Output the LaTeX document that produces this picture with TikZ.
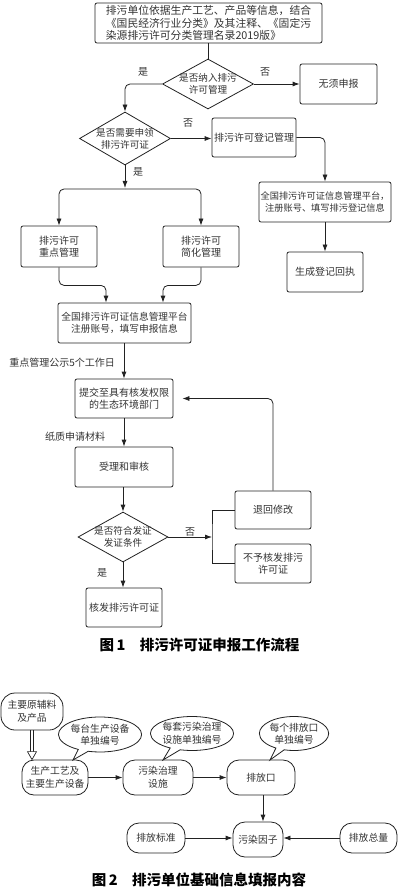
\documentclass[tikz,border=0pt]{standalone}
\usepackage{fontspec}
\newfontfamily\cjk{Noto Sans CJK SC}
\usetikzlibrary{shapes.geometric,shapes.callouts,arrows.meta,calc}
\definecolor{linec}{HTML}{222222}
\definecolor{txt}{HTML}{333333}
\tikzset{
 box/.style={draw=linec, line width=0.8pt, rounded corners=2pt, inner sep=0pt, align=center, text=txt, font=\cjk\fontsize{10}{12.5}\selectfont},
 dia/.style={draw=linec, diamond, line width=0.8pt, inner sep=0pt},
 dtext/.style={align=center, text=txt, inner sep=0pt, font=\cjk\fontsize{9.6}{12}\selectfont},
 lbl/.style={text=txt, inner sep=0pt, font=\cjk\fontsize{10}{12}\selectfont},
 arr/.style={draw=linec, line width=0.8pt, -{Latex[length=7pt,width=5pt]}},
 ln/.style={draw=linec, line width=0.8pt},
 pill/.style={draw=linec, line width=0.8pt, rounded corners=12pt, inner sep=0pt, align=center, text=txt, font=\cjk\fontsize{9.8}{12.5}\selectfont},
 bubble/.style={ellipse callout, draw=linec, line width=0.8pt, inner sep=0pt, align=center, text=txt, font=\cjk\fontsize{9.8}{12.5}\selectfont},
 figcap/.style={inner sep=0pt, text=black, font=\cjk\bfseries\fontsize{14.5}{16}\selectfont}
}
\begin{document}
\begin{tikzpicture}[x=1pt,y=-1pt]
\useasboundingbox[fill=white] (0,0) rectangle (400,890);
% ---------- Figure 1 ----------
\node[box, minimum width=227, minimum height=40, align=left, font=\cjk\fontsize{10.8}{12.6}\selectfont] (top) at (208.5,23)
 {排污单位依据生产工艺、产品等信息，结合\\《国民经济行业分类》及其注释、《固定污\\染源排污许可分类管理名录2019版》};
\node[dia, minimum width=91, minimum height=50] (d1) at (208,84) {};
\node[dtext] (d1t) at (d1) {是否纳入排污\\许可管理};
\node[box, minimum width=77, minimum height=40] (no1) at (338.5,84) {无须申报};
\node[dia, minimum width=91, minimum height=53] (d2) at (125,138.5) {};
\node[dtext] (d2t) at (d2) {是否需要申领\\排污许可证};
\node[box, minimum width=84, minimum height=39] (reg) at (254,137.5) {排污许可登记管理};
\node[box, minimum width=132, minimum height=40, font=\cjk\fontsize{9.2}{12}\selectfont] (info2) at (325,202)
 {全国排污许可证信息管理平台，\\注册账号、填写排污登记信息};
\node[box, minimum width=76, minimum height=40] (rcpt) at (325,272) {生成登记回执};
\node[box, minimum width=76, minimum height=41] (b1) at (59,246.5) {排污许可\\重点管理};
\node[box, minimum width=76, minimum height=41] (b2) at (201,246.5) {排污许可\\简化管理};
\node[box, minimum width=133, minimum height=40, font=\cjk\fontsize{9.7}{12.5}\selectfont] (plat) at (124.5,323)
 {全国排污许可证信息管理平台\\注册账号，填写申报信息};
\node[box, minimum width=98, minimum height=39] (sub) at (124,398.5) {提交至具有核发权限\\的生态环境部门};
\node[box, minimum width=98, minimum height=40] (rev) at (124,467) {受理和审核};
\node[dia, minimum width=90, minimum height=50] (d3) at (123,537) {};
\node[dtext] (d3t) at (d3) {是否符合发证\\发证条件};
\node[box, minimum width=76, minimum height=38] (ret) at (273,510) {退回修改};
\node[box, minimum width=76, minimum height=39] (rej) at (273,563.5) {不予核发排污\\许可证};
\node[box, minimum width=76, minimum height=39] (iss) at (124,607.5) {核发排污许可证};
% connectors
\draw[ln] (top.south -| d1.north) -- (d1.north);
\draw[arr] (d1.east) -- (no1.west);
\draw[arr, rounded corners=5pt] (d1.west) -| (d2.north);
\draw[arr] (d2.east) -- (d2.east -| reg.west);
\draw[arr, rounded corners=5pt] (reg.east) -| (info2.north);
\draw[arr] (info2.south) -- (rcpt.north);
\coordinate (split) at (125,189);
\draw[arr] (d2.south) -- ($(split)+(0,-1)$);
\draw[arr, rounded corners=5pt] (split) -| (b1.north);
\draw[arr, rounded corners=5pt] (split) -| (b2.north);
\draw[arr, rounded corners=5pt] (b1.south) -- ++(0,18) -| ($(plat.north)+(-18.5,0)$);
\draw[arr, rounded corners=5pt] (b2.south) -- ++(0,18) -| ($(plat.north)+(38.5,0)$);
\draw[arr] (plat.south -| sub.north) -- (sub.north);
\draw[arr] (sub.south) -- (rev.north);
\draw[arr] (rev.south -| d3.north) -- (d3.north);
\coordinate (jn) at (212,537);
\draw[arr] (d3.east) -- (jn);
\draw[ln] (ret.west) -| (jn) |- (rej.west);
\draw[arr, rounded corners=5pt] (ret.north) |- ($(sub.east)+(9,0)$);
\draw[arr] (d3.south) -- (d3.south |- iss.north);
% labels
\node[lbl] (y1) at (143,72) {是};
\node[lbl] (n1l) at (265,72) {否};
\node[lbl] (n2l) at (188,123) {否};
\node[lbl] (y2) at (138,172) {是};
\node[lbl, anchor=east] (pub) at (115,363) {重点管理公示5个工作日};
\node[lbl] (paper) at (75,437) {纸质申请材料};
\node[lbl] (n3l) at (190,532) {否};
\node[lbl] (y3) at (102,573) {是};
\node[figcap] (cap1) at (199.5,645) {图\,1\quad 排污许可证申报工作流程};
% ---------- Figure 2 ----------
\node[pill, rounded corners=14pt, minimum width=62, minimum height=37] (raw) at (32,711.5) {主要原辅料\\及产品};
\node[pill, minimum width=66, minimum height=35] (p1) at (55,777.5) {生产工艺及\\主要生产设备};
\node[pill, minimum width=70, minimum height=35] (p2) at (158,777.5) {污染治理\\设施};
\node[pill, minimum width=68, minimum height=35] (p3) at (261,777.5) {排放口};
\node[pill, minimum width=50, minimum height=35] (p4) at (258,839.5) {污染因子};
\node[pill, minimum width=58, minimum height=30] (p5) at (156,838) {排放标准};
\node[pill, minimum width=57, minimum height=30] (p6) at (368.5,838) {排放总量};
\coordinate (t1) at (73,760);
\coordinate (t2) at (163,760);
\coordinate (t3) at (270,760);
\node[bubble, minimum width=70, minimum height=35, callout absolute pointer={(t1)}] (c1) at (100,734.5) {每台生产设备\\单独编号};
\node[bubble, minimum width=70, minimum height=34, callout absolute pointer={(t2)}] (c2) at (192,733.5) {每套污染治理\\设施单独编号};
\node[bubble, minimum width=68, minimum height=34, callout absolute pointer={(t3)}] (c3) at (294,733.5) {每个排放口\\单独编号};
% double arrow raw -> p1
\coordinate (da) at (raw.south);
\coordinate (db) at (raw.south |- p1.north);
\draw[draw=linec, line width=0.7pt] ($(da)+(-1.8,0)$) -- ($(db)+(-1.8,-8)$);
\draw[draw=linec, line width=0.7pt] ($(da)+(1.8,0)$) -- ($(db)+(1.8,-8)$);
\draw[draw=linec, line width=0.7pt, fill=white] ($(db)+(-4.5,-8)$) -- ($(db)+(4.5,-8)$) -- (db) -- cycle;
\draw[arr] (p1.east) -- (p2.west);
\draw[arr] (p2.east) -- (p3.west);
\draw[arr] ($(p3.south)+(2,0)$) -- ($(p3.south |- p4.north)+(2,0)$);
\draw[arr] (p5.east) -- (p5.east -| p4.west);
\draw[arr] (p6.west) -- (p6.west -| p4.east);
\node[figcap] (cap2) at (199,880) {图\,2\quad 排污单位基础信息填报内容};
\end{tikzpicture}
\end{document}
